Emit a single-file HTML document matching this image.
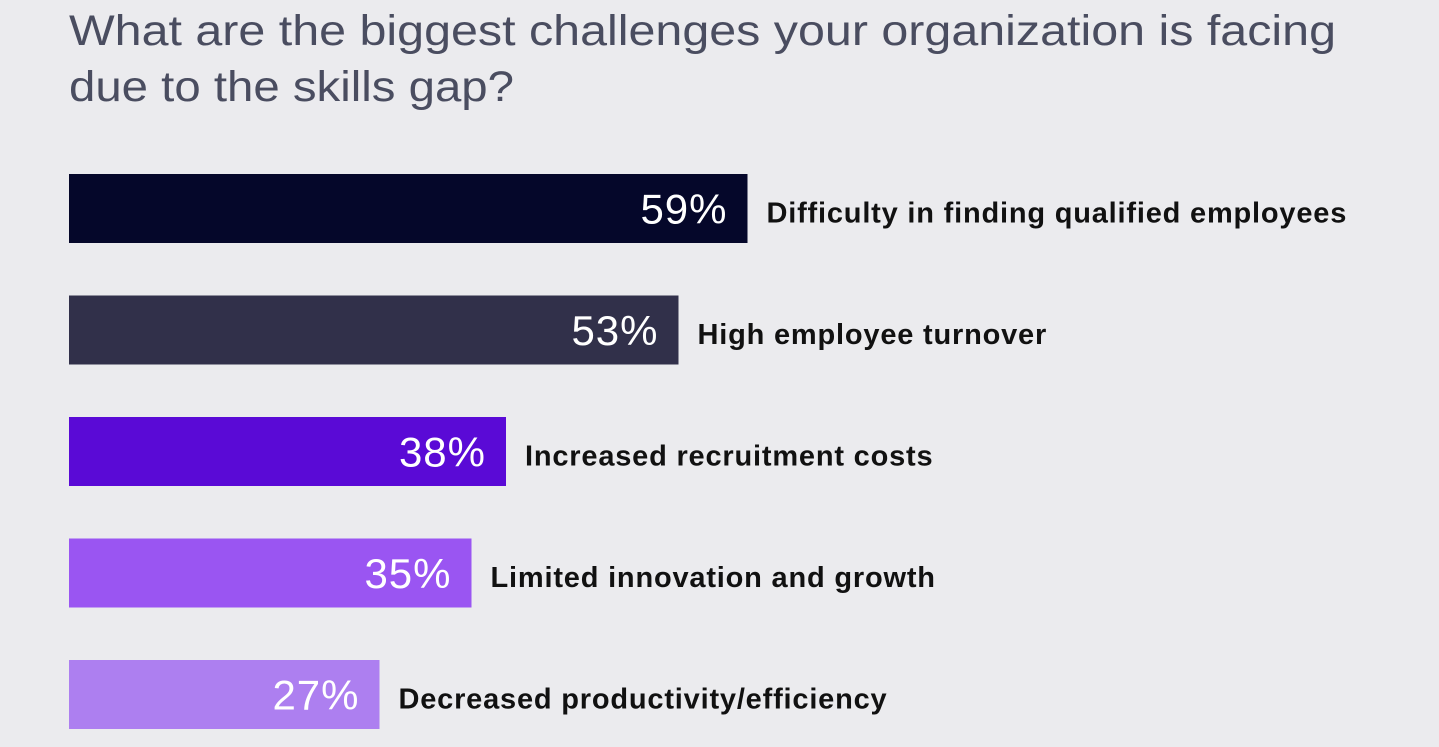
<!DOCTYPE html>
<html><head><meta charset="utf-8"><style>
html,body{margin:0;padding:0;background:#ebebee;}
svg{display:block;}
</style></head><body>
<svg id="chart" width="1439" height="747" viewBox="0 0 1439 747" xmlns="http://www.w3.org/2000/svg">
<rect x="0" y="0" width="1439" height="747" fill="#ebebee"/>
<text x="69" y="45" font-family="Liberation Sans, sans-serif" font-size="43" fill="#4a4d60" textLength="1267" lengthAdjust="spacingAndGlyphs">What are the biggest challenges your organization is facing</text>
<text x="69" y="101" font-family="Liberation Sans, sans-serif" font-size="43" fill="#4a4d60" textLength="445" lengthAdjust="spacingAndGlyphs">due to the skills gap?</text>
<g id="bars"></g>
</svg>
<script>
const categories = ["Difficulty in finding qualified employees","High employee turnover","Increased recruitment costs","Limited innovation and growth","Decreased productivity/efficiency"];
const values = [59, 53, 38, 35, 27];
const valueLabels = ["59%","53%","38%","35%","27%"];
const colors = ["#05072a","#31304a","#5a0ad6","#9a55f2","#ad7ff0"];

const x0 = 69, pxPerPct = 11.5;
const xScale = v => x0 + v * pxPerPct;
const yTop = i => 174 + i * 121.5;
const barH = 69;
const NS = "http://www.w3.org/2000/svg";
const g = document.getElementById("bars");
categories.forEach((c, i) => {
  const xe = xScale(values[i]);
  const y = yTop(i);
  const r = document.createElementNS(NS, "rect");
  
  
  r.setAttribute("x", x0); r.setAttribute("y", y);
  r.setAttribute("width", xe - x0); r.setAttribute("height", barH);
  r.setAttribute("fill", colors[i]);
  g.appendChild(r);
  const v = document.createElementNS(NS, "text");
  
  
  v.setAttribute("x", xe - 20); v.setAttribute("y", y + barH/2 + 15);
  v.setAttribute("text-anchor", "end");
  v.setAttribute("font-family", "Liberation Sans, sans-serif");
  v.setAttribute("font-size", "42");
  v.setAttribute("letter-spacing", "1");
  v.setAttribute("fill", "#ffffff");
  v.textContent = valueLabels[i];
  g.appendChild(v);
  const t = document.createElementNS(NS, "text");
  
  
  t.setAttribute("x", xe + 19); t.setAttribute("y", y + barH/2 + 14);
  t.setAttribute("font-family", "Liberation Sans, sans-serif");
  t.setAttribute("font-size", "29");
  t.setAttribute("letter-spacing", "0.8");
  t.setAttribute("font-weight", "bold");
  t.setAttribute("fill", "#111111");
  t.textContent = c;
  g.appendChild(t);
});
</script>
</body></html>
